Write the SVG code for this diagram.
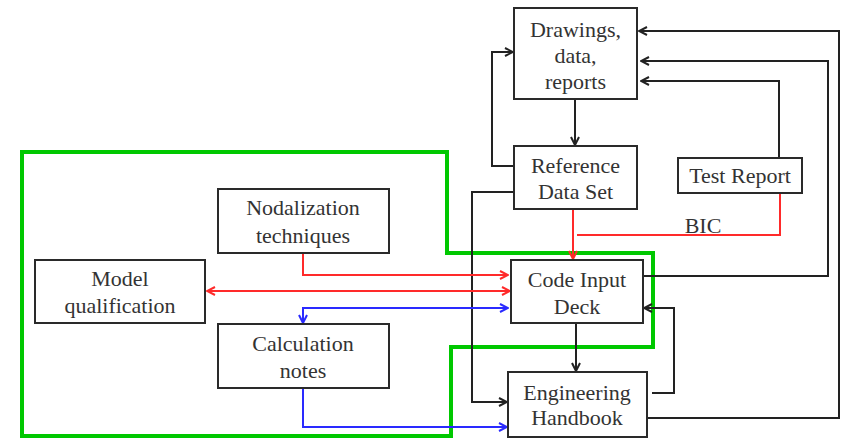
<svg xmlns="http://www.w3.org/2000/svg" width="842" height="439" viewBox="0 0 842 439">
<defs>
<style>
.box{fill:#fff;stroke:#2a2a2a;stroke-width:2}
.t{font-family:"Liberation Serif","Times New Roman","DejaVu Serif",serif;font-size:22px;fill:#333;text-anchor:middle}
.k{fill:none;stroke:#222;stroke-width:2}
.r{fill:none;stroke:#ff2a2a;stroke-width:2}
.b{fill:none;stroke:#2a2aff;stroke-width:2}
</style>
<marker id="ak" viewBox="0 0 10 10" refX="9" refY="5" markerWidth="10" markerHeight="10" markerUnits="userSpaceOnUse" orient="auto-start-reverse"><path d="M1,1 L9,5 L1,9" fill="none" stroke="#222" stroke-width="2"/></marker>
<marker id="ar" viewBox="0 0 10 10" refX="9" refY="5" markerWidth="10" markerHeight="10" markerUnits="userSpaceOnUse" orient="auto-start-reverse"><path d="M1,1 L9,5 L1,9" fill="none" stroke="#ff2a2a" stroke-width="2"/></marker>
<marker id="ab" viewBox="0 0 10 10" refX="9" refY="5" markerWidth="10" markerHeight="10" markerUnits="userSpaceOnUse" orient="auto-start-reverse"><path d="M1,1 L9,5 L1,9" fill="none" stroke="#2a2aff" stroke-width="2"/></marker>
</defs>
<rect width="842" height="439" fill="#fff"/>
<polygon id="scope" points="22,152 447,152 447,253 653,253 653,347 451,347 451,436 22,436" fill="none" stroke="#00c800" stroke-width="4"/>
<g id="connectors">
<path class="k" d="M575,99 V145" marker-end="url(#ak)"/>
<path class="k" d="M514,166 H492 V52 H513" marker-end="url(#ak)"/>
<path class="k" d="M514,192 H472 V402 H507" marker-end="url(#ak)"/>
<path class="k" d="M779,158 V81 H641" marker-end="url(#ak)"/>
<path class="k" d="M643,276 H828 V61 H641" marker-end="url(#ak)"/>
<path class="k" d="M647,418 H839 V31 H639" marker-end="url(#ak)"/>
<path class="k" d="M576,323 V371" marker-end="url(#ak)"/>
<path class="k" d="M652,393 H674 V308 H644" marker-end="url(#ak)"/>
<path class="r" d="M573,209 V259" marker-end="url(#ar)"/>
<path class="r" d="M780,193 V235 H577"/>
<path class="r" d="M303,253 V275 H508" marker-end="url(#ar)"/>
<path class="r" d="M207,291 H510" marker-start="url(#ar)" marker-end="url(#ar)"/>
<path class="b" d="M303,323 V308 H508" marker-start="url(#ab)" marker-end="url(#ab)"/>
<path class="b" d="M303,388 V427 H507" marker-end="url(#ab)"/>
<text class="t" x="703" y="233">BIC</text>
</g>
<g id="drawings"><rect class="box" x="514" y="8" width="123" height="91"/><text class="t" x="575.5" y="37">Drawings,</text><text class="t" x="575.5" y="63">data,</text><text class="t" x="575.5" y="89">reports</text></g>
<g id="reference"><rect class="box" x="514" y="146" width="123" height="63"/><text class="t" x="575.5" y="173">Reference</text><text class="t" x="575.5" y="199">Data Set</text></g>
<g id="testreport"><rect class="box" x="678" y="158" width="124" height="35"/><text class="t" x="740" y="183">Test Report</text></g>
<g id="codeinput"><rect class="box" x="511" y="260" width="132" height="63"/><text class="t" x="577" y="287">Code Input</text><text class="t" x="577" y="314">Deck</text></g>
<g id="handbook"><rect class="box" x="508" y="372" width="139" height="65"/><text class="t" x="577" y="400">Engineering</text><text class="t" x="577" y="425">Handbook</text></g>
<g id="nodalization"><rect class="box" x="218" y="189" width="171" height="64"/><text class="t" x="303" y="215">Nodalization</text><text class="t" x="303" y="243">techniques</text></g>
<g id="model"><rect class="box" x="35" y="260" width="170" height="63"/><text class="t" x="120" y="286">Model</text><text class="t" x="120" y="313">qualification</text></g>
<g id="calculation"><rect class="box" x="218" y="324" width="171" height="64"/><text class="t" x="303" y="351">Calculation</text><text class="t" x="303" y="378">notes</text></g>
</svg>
